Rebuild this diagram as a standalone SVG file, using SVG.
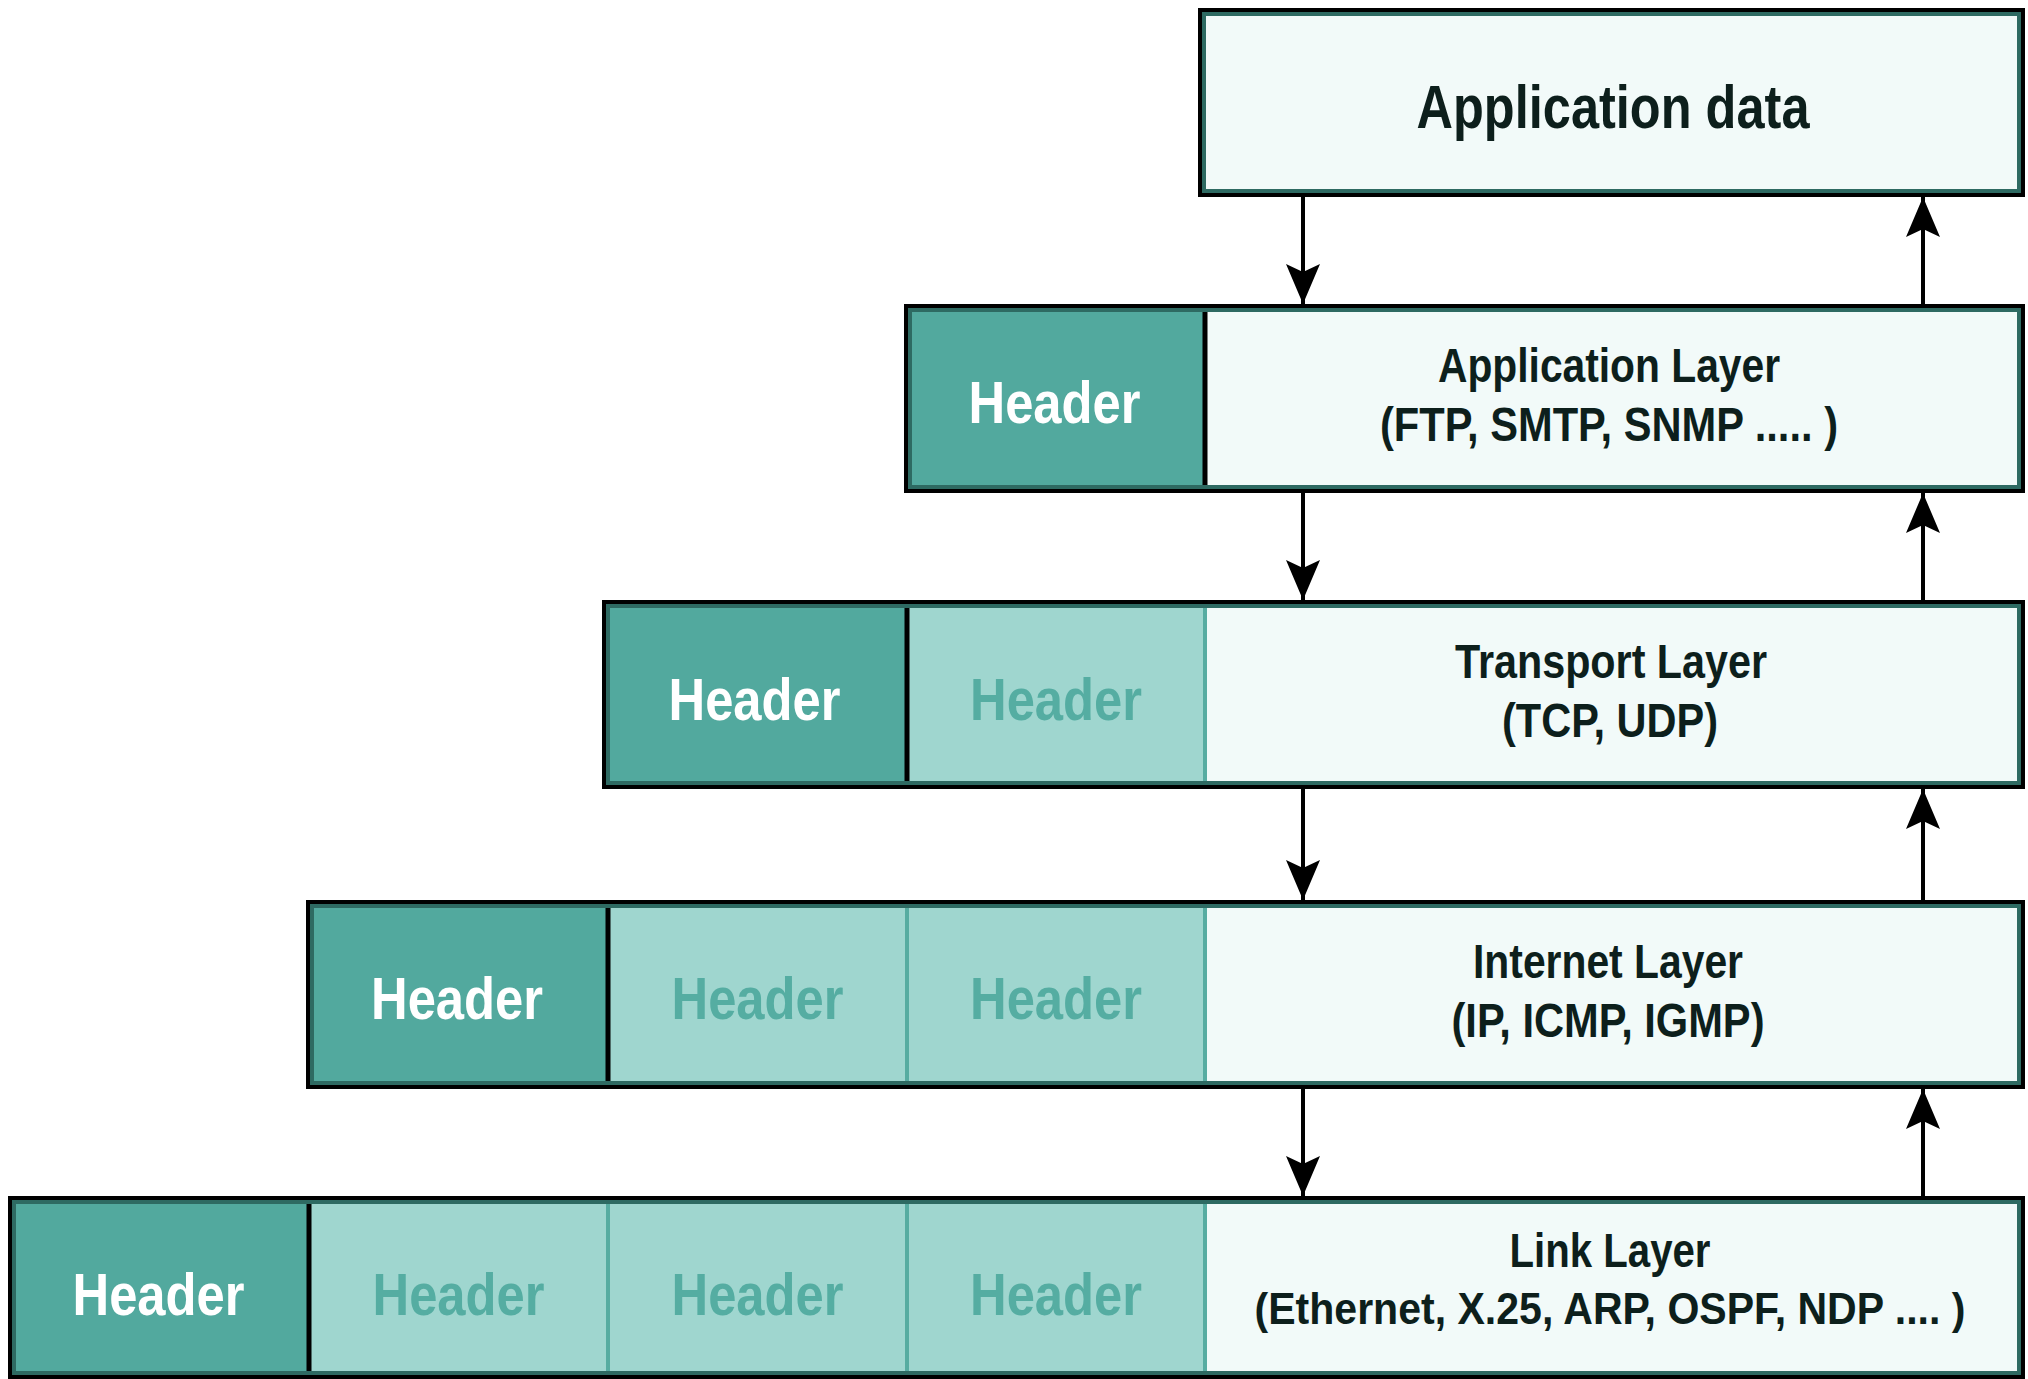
<svg xmlns="http://www.w3.org/2000/svg" width="2028" height="1379" viewBox="0 0 2028 1379">
  <defs>
    <style>
      .dark { fill: #52a99e; }
      .light { fill: #9fd6cf; }
      .data { fill: #f2faf9; }
      .outer { fill: none; stroke: #000; stroke-width: 4; }
      .inner { fill: none; stroke: #2e6a62; stroke-width: 4; }
      .divb { stroke: #000; stroke-width: 5; }
      .divt { stroke: #57aca1; stroke-width: 4; }
      text { text-anchor: middle; font-family: "Liberation Sans", Arial, sans-serif; font-weight: bold; }
      .hdr { font-size: 60px; fill: #ffffff; }
      .hdrl { font-size: 60px; fill: #55ada2; }
      .lbl { font-size: 48px; fill: #0d1f1c; }
      .lbls { font-size: 44px; fill: #0d1f1c; }
      .title { font-size: 62px; fill: #0d1f1c; }
      .conn { stroke: #000; stroke-width: 4; fill: none; }
    </style>
    <marker id="arrow" viewBox="0 0 40 34" refX="40" refY="17" markerWidth="40" markerHeight="34" markerUnits="userSpaceOnUse" orient="auto">
      <path d="M0,0 L40,17 L0,34 L8,17 Z" fill="#000"/>
    </marker>
  </defs>

  <rect width="2028" height="1379" fill="#ffffff"/>

  <!-- Application data -->
  <g id="app-data">
    <rect class="data" x="1198" y="8" width="827" height="189"/>
    <rect class="outer" x="1200" y="10" width="823" height="185"/>
    <rect class="inner" x="1204" y="14" width="815" height="177"/>
    <text class="title" x="1613" y="128" textLength="393" lengthAdjust="spacingAndGlyphs">Application data</text>
  </g>

  <!-- Application Layer -->
  <g id="application-layer">
    <rect class="dark" x="904" y="304" width="301" height="189"/>
    <rect class="data" x="1205" y="304" width="820" height="189"/>
    <line class="divb" x1="1205" y1="304" x2="1205" y2="493"/>
    <rect class="outer" x="906" y="306" width="1117" height="185"/>
    <rect class="inner" x="910" y="310" width="1109" height="177"/>
    <text class="hdr" x="1054.5" y="423" textLength="172" lengthAdjust="spacingAndGlyphs">Header</text>
    <text class="lbl" x="1609" y="382" textLength="342" lengthAdjust="spacingAndGlyphs">Application Layer</text>
    <text class="lbl" x="1609" y="441" textLength="458" lengthAdjust="spacingAndGlyphs">(FTP, SMTP, SNMP ..... )</text>
  </g>

  <!-- Transport Layer -->
  <g id="transport-layer">
    <rect class="dark" x="602" y="600" width="305" height="189"/>
    <rect class="light" x="907" y="600" width="298" height="189"/>
    <rect class="data" x="1205" y="600" width="820" height="189"/>
    <line class="divt" x1="1205" y1="600" x2="1205" y2="789"/>
    <line class="divb" x1="907" y1="600" x2="907" y2="789"/>
    <rect class="outer" x="604" y="602" width="1419" height="185"/>
    <rect class="inner" x="608" y="606" width="1411" height="177"/>
    <text class="hdr" x="754.5" y="720" textLength="172" lengthAdjust="spacingAndGlyphs">Header</text>
    <text class="hdrl" x="1056" y="720" textLength="172" lengthAdjust="spacingAndGlyphs">Header</text>
    <text class="lbl" x="1611" y="678" textLength="312" lengthAdjust="spacingAndGlyphs">Transport Layer</text>
    <text class="lbl" x="1610" y="737" textLength="216" lengthAdjust="spacingAndGlyphs">(TCP, UDP)</text>
  </g>

  <!-- Internet Layer -->
  <g id="internet-layer">
    <rect class="dark" x="306" y="900" width="302" height="189"/>
    <rect class="light" x="608" y="900" width="597" height="189"/>
    <rect class="data" x="1205" y="900" width="820" height="189"/>
    <line class="divt" x1="907" y1="900" x2="907" y2="1089"/>
    <line class="divt" x1="1205" y1="900" x2="1205" y2="1089"/>
    <line class="divb" x1="608" y1="900" x2="608" y2="1089"/>
    <rect class="outer" x="308" y="902" width="1715" height="185"/>
    <rect class="inner" x="312" y="906" width="1707" height="177"/>
    <text class="hdr" x="457" y="1019" textLength="172" lengthAdjust="spacingAndGlyphs">Header</text>
    <text class="hdrl" x="757.5" y="1019" textLength="172" lengthAdjust="spacingAndGlyphs">Header</text>
    <text class="hdrl" x="1056" y="1019" textLength="172" lengthAdjust="spacingAndGlyphs">Header</text>
    <text class="lbl" x="1608" y="978" textLength="270" lengthAdjust="spacingAndGlyphs">Internet Layer</text>
    <text class="lbl" x="1608" y="1037" textLength="313" lengthAdjust="spacingAndGlyphs">(IP, ICMP, IGMP)</text>
  </g>

  <!-- Link Layer -->
  <g id="link-layer">
    <rect class="dark" x="8" y="1196" width="301" height="183"/>
    <rect class="light" x="309" y="1196" width="896" height="183"/>
    <rect class="data" x="1205" y="1196" width="820" height="183"/>
    <line class="divt" x1="608" y1="1196" x2="608" y2="1379"/>
    <line class="divt" x1="907" y1="1196" x2="907" y2="1379"/>
    <line class="divt" x1="1205" y1="1196" x2="1205" y2="1379"/>
    <line class="divb" x1="309" y1="1196" x2="309" y2="1379"/>
    <rect class="outer" x="10" y="1198" width="2013" height="179"/>
    <rect class="inner" x="14" y="1202" width="2005" height="171"/>
    <text class="hdr" x="158.5" y="1315" textLength="172" lengthAdjust="spacingAndGlyphs">Header</text>
    <text class="hdrl" x="458.5" y="1315" textLength="172" lengthAdjust="spacingAndGlyphs">Header</text>
    <text class="hdrl" x="757.5" y="1315" textLength="172" lengthAdjust="spacingAndGlyphs">Header</text>
    <text class="hdrl" x="1056" y="1315" textLength="172" lengthAdjust="spacingAndGlyphs">Header</text>
    <text class="lbl" x="1610" y="1267" textLength="201" lengthAdjust="spacingAndGlyphs">Link Layer</text>
    <text class="lbls" x="1610" y="1324" textLength="711" lengthAdjust="spacingAndGlyphs">(Ethernet, X.25, ARP, OSPF, NDP .... )</text>
  </g>

  <!-- Connectors -->
  <g id="connectors">
    <line class="conn" x1="1303" y1="197" x2="1303" y2="304" marker-end="url(#arrow)"/>
    <line class="conn" x1="1303" y1="493" x2="1303" y2="600" marker-end="url(#arrow)"/>
    <line class="conn" x1="1303" y1="789" x2="1303" y2="900" marker-end="url(#arrow)"/>
    <line class="conn" x1="1303" y1="1089" x2="1303" y2="1196" marker-end="url(#arrow)"/>
    <line class="conn" x1="1923" y1="304" x2="1923" y2="197" marker-end="url(#arrow)"/>
    <line class="conn" x1="1923" y1="600" x2="1923" y2="493" marker-end="url(#arrow)"/>
    <line class="conn" x1="1923" y1="900" x2="1923" y2="789" marker-end="url(#arrow)"/>
    <line class="conn" x1="1923" y1="1196" x2="1923" y2="1089" marker-end="url(#arrow)"/>
  </g>
</svg>
